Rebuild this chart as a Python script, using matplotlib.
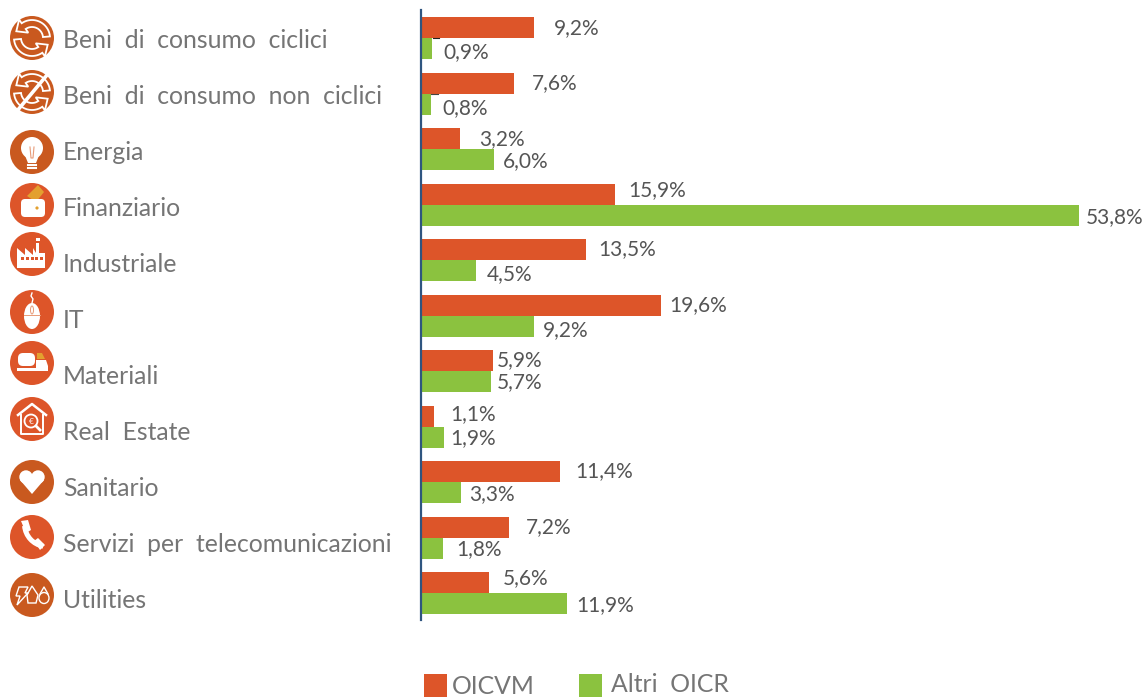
import matplotlib
matplotlib.use("Agg")
import matplotlib.pyplot as plt
import numpy as np
from matplotlib.patches import Circle, Rectangle, Polygon, Ellipse, FancyBboxPatch, Wedge

plt.rcParams['font.family'] = ['Lato', 'DejaVu Sans']

categories = [
    "Beni  di  consumo  ciclici",
    "Beni  di  consumo  non  ciclici",
    "Energia",
    "Finanziario",
    "Industriale",
    "IT",
    "Materiali",
    "Real  Estate",
    "Sanitario",
    "Servizi  per  telecomunicazioni",
    "Utilities",
]
oicvm = [9.2, 7.6, 3.2, 15.9, 13.5, 19.6, 5.9, 1.1, 11.4, 7.2, 5.6]
altri = [0.9, 0.8, 6.0, 53.8, 4.5, 9.2, 5.7, 1.9, 3.3, 1.8, 11.9]

# manual label nudges in px (dx, dy), the original has hand placed labels
red_nudge = [(20, 0), (18, -1), (19, 0), (13, -5), (12, -1), (9, -1),
             (4, -1), (16, -3), (15, -1), (17, -1), (13, -5)]
green_nudge = [(11, 3), (12, 3), (8, 1), (7, 1), (11, 3), (9, 3),
               (6, 0), (6, 0), (8, 1), (13, 0), (10, 1)]

RED = "#DD5529"
DARK = "#C9591F"
GREEN = "#8BC23F"
W, H = 1146, 697

fig = plt.figure(figsize=(W / 100, H / 100), dpi=100)

# bar axes, 421px is zero, rows 55.5 px apart
ax = fig.add_axes([421 / W, 1 - 620 / H, (W - 421) / W, 610 / H])
ax.set_xlim(0, (W - 421) / 12.23)
ax.set_ylim((620 - 38) / 55.5, (10 - 38) / 55.5)
rows = list(range(len(categories)))
bh = 21 / 55.5
ax.barh([r - bh / 2 for r in rows], oicvm, height=bh, color=RED)
ax.barh([r + bh / 2 for r in rows], altri, height=bh, color=GREEN)
for s in ["top", "right", "bottom"]:
    ax.spines[s].set_visible(False)
ax.spines["left"].set_color("#2F5580")
ax.spines["left"].set_linewidth(1.6)
ax.set_xticks([])
ax.set_yticks([])
ax.patch.set_alpha(0)


def fmt(v):
    return f"{v:.1f}%".replace(".", ",")


for r in rows:
    ax.annotate(fmt(oicvm[r]), (oicvm[r], r - bh / 2), xytext=(red_nudge[r][0], -red_nudge[r][1] - 1),
                textcoords="offset pixels", va="center", ha="left", fontsize=15, color="#555555")
    ax.annotate(fmt(altri[r]), (altri[r], r + bh / 2), xytext=(green_nudge[r][0], -green_nudge[r][1] - 1),
                textcoords="offset pixels", va="center", ha="left", fontsize=15, color="#555555")

# overlay in pixel coords for the icons, category names and legend
ov = fig.add_axes([0, 0, 1, 1])
ov.set_xlim(0, W)
ov.set_ylim(H, 0)
ov.axis("off")
ov.patch.set_alpha(0)

for i, name in enumerate(categories):
    ov.text(63, 40.5 + 56 * i, name, va="center", ha="left", fontsize=17.8, color="#757575")

# legend
ov.add_patch(Rectangle((424, 674), 23, 23, color=RED, lw=0))
ov.text(452, 687, "OICVM", va="center", fontsize=17.8, color="#757575")
ov.add_patch(Rectangle((579, 674), 23, 23, color=GREEN, lw=0))
ov.text(611, 685, "Altri  OICR", va="center", fontsize=17.8, color="#757575")

# small leader ticks left over next to the first labels
ov.plot([433, 439], [37.5, 37.5], color="#222222", lw=0.8)
ov.plot([431, 438], [94, 94], color="#444444", lw=0.8)

icon_y = [38, 92, 152, 205, 254, 312, 363, 419, 482, 537, 595]
icon_col = [DARK, DARK, DARK, RED, RED, RED, RED, RED, DARK, RED, DARK]
CX = 32
for y, c in zip(icon_y, icon_col):
    ov.add_patch(Circle((CX, y), 22, color=c, lw=0))


def swirl(y):
    # two opposing curved arrows, y axis is flipped so angles run the other way
    for start in (0, 180):
        t = np.radians(np.linspace(start + 5, start + 125, 20))
        outer = [(CX + 18 * np.cos(a), y - 18 * np.sin(a)) for a in t]
        inner = [(CX + 11 * np.cos(a), y - 11 * np.sin(a)) for a in t[::-1]]
        end = t[-1]
        tip_dir = end + np.pi / 2
        base = (CX + 14.5 * np.cos(end), y - 14.5 * np.sin(end))
        head = [(base[0] + 8 * np.cos(end), base[1] - 8 * np.sin(end)),
                (base[0] + 9 * np.cos(tip_dir), base[1] - 9 * np.sin(tip_dir)),
                (base[0] - 8 * np.cos(end), base[1] + 8 * np.sin(end))]
        ov.add_patch(Polygon(outer + head[:2] + head[2:] + inner, fc=DARK, ec="white", lw=1.3, closed=True))


swirl(icon_y[0])
swirl(icon_y[1])
y = icon_y[1]
ov.plot([17, 47], [y + 19, y - 17], color="white", lw=2.6, solid_capstyle="round")

# bulb
y = icon_y[2]
ov.add_patch(Circle((CX, y - 4), 11, color="white", lw=0))
ov.add_patch(Polygon([(24, y + 1), (40, y + 1), (36, y + 11), (28, y + 11)], color="white", lw=0))
ov.plot([30, 31, 33, 34], [y - 5, y + 6, y + 6, y - 5], color="#E89B78", lw=0.8)
for d in (13, 16):
    ov.plot([28, 36], [y + d, y + d], color="white", lw=1.5)

# wallet
y = icon_y[3]
ov.add_patch(Polygon([(27, y - 9), (38, y - 20), (44, y - 13), (36, y - 3)], color="#E3A02F", lw=0))
ov.add_patch(FancyBboxPatch((21, y - 6), 24, 18, boxstyle="round,pad=0,rounding_size=4", fc="white", ec="none"))
ov.add_patch(Circle((37, y + 3), 1.6, color="#E3A02F", lw=0))

# factory
y = icon_y[4]
ov.add_patch(Polygon([(17, y + 14), (17, y - 6), (25, y + 1), (25, y - 6), (33, y + 1), (33, y - 6), (36, y - 1),
                      (36, y - 11), (39, y - 11), (39, y - 1), (45, y - 1), (45, y + 14)], color="white", lw=0))
ov.add_patch(Rectangle((36, y - 16), 4, 3, color="white", lw=0))
for k in range(5):
    ov.add_patch(Rectangle((21 + k * 4.8, y + 3), 3, 3, color=RED, lw=0))

# mouse
y = icon_y[5]
ov.add_patch(Ellipse((CX, y + 4), 16, 26, color="white", lw=0))
ov.plot([32, 33, 31, 32], [y - 9, y - 13, y - 16, y - 19], color="white", lw=1)
ov.plot([24, 40], [y + 3, y + 3], color="#E89B78", lw=0.7)
ov.add_patch(Ellipse((CX, y - 2), 3, 8, fc="none", ec="#E89B78", lw=0.7))

# materials
y = icon_y[6]
ov.add_patch(FancyBboxPatch((18, y - 10), 17, 13, boxstyle="round,pad=0,rounding_size=5", fc="white", ec="none"))
ov.add_patch(Polygon([(37, y - 10), (42, y - 10), (45, y - 4), (37, y - 4)], color="#E3A02F", lw=0))
ov.add_patch(Polygon([(36, y - 3), (46, y - 3), (48, y + 3), (48, y + 8), (36, y + 5)], color="white", lw=0))
ov.add_patch(Rectangle((17, y + 5), 31, 3, color="white", lw=0))

# real estate
y = icon_y[7]
ov.plot([18, 32, 46], [y - 4, y - 15, y - 4], color="white", lw=1.8)
ov.plot([21, 21, 43, 43], [y - 4, y + 15, y + 15, y - 4], color="white", lw=1.4)
ov.add_patch(Circle((31, y + 2), 6.5, fc="none", ec="white", lw=1.3))
ov.text(31, y + 2, "€", ha="center", va="center", fontsize=6, color="white")
ov.plot([36, 40], [y + 7, y + 11], color="white", lw=2)

# heart
y = icon_y[8]
ov.add_patch(Circle((26, y - 5), 6.7, color="white", lw=0))
ov.add_patch(Circle((38, y - 5), 6.7, color="white", lw=0))
ov.add_patch(Polygon([(20, y - 2), (44, y - 2), (32, y + 12)], color="white", lw=0))

# phone
y = icon_y[9]
ov.add_patch(Wedge((47, y - 13), 25, 100, 175, width=5, color="white", lw=0))
ov.add_patch(Polygon([(21, y - 16), (28, y - 17), (31, y - 7), (26, y - 4)], color="white", lw=0))
ov.add_patch(Polygon([(34, y + 4), (38, y + 1), (45, y + 8), (40, y + 13)], color="white", lw=0))

# utilities
y = icon_y[10]
ov.add_patch(Polygon([(19, y - 8), (28, y - 8), (25, y - 2), (28, y - 2), (17, y + 10), (20, y + 1), (16, y + 1)],
                     fc="none", ec="white", lw=1))
ov.add_patch(Polygon([(32, y - 9), (38, y), (36, y + 8), (28, y + 8), (27, y)], fc="none", ec="white", lw=1))
ov.add_patch(Ellipse((44, y + 3), 10, 11, fc="none", ec="white", lw=1))
ov.plot([40, 44, 48], [y - 1, y - 8, y - 1], color="white", lw=1)

fig.savefig("out.png", dpi=100)
